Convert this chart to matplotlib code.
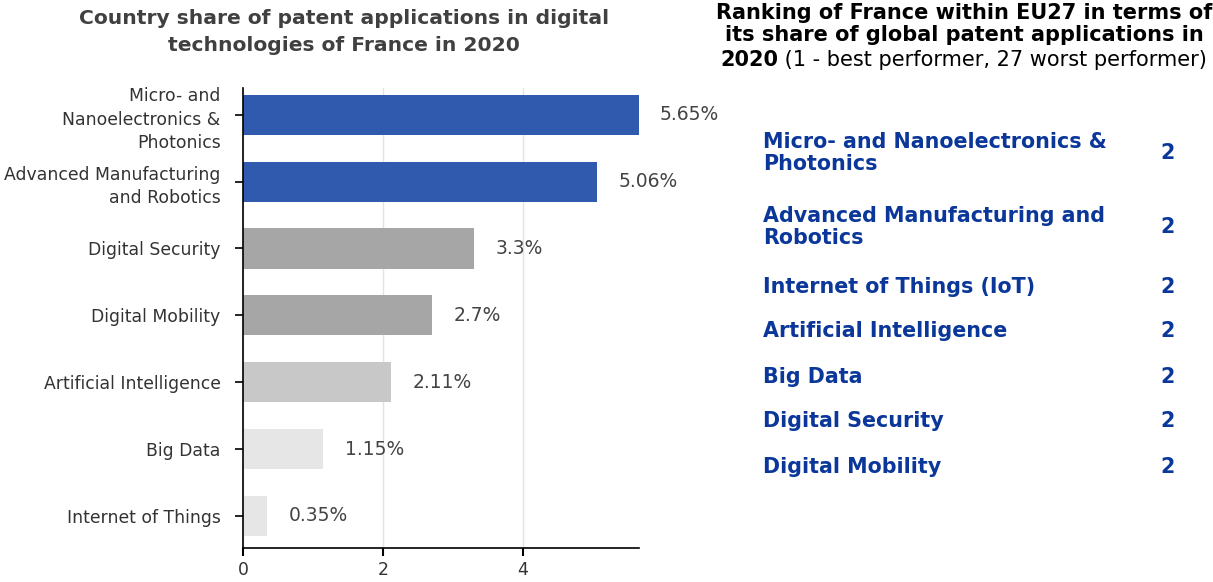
import matplotlib.pyplot as plt

categories = ["Micro- and\nNanoelectronics &\nPhotonics", "Advanced Manufacturing\nand Robotics",
              "Digital Security", "Digital Mobility", "Artificial Intelligence",
              "Big Data", "Internet of Things"]
values = [5.65, 5.06, 3.3, 2.7, 2.11, 1.15, 0.35]

rank_labels = ["Micro- and Nanoelectronics &\nPhotonics", "Advanced Manufacturing and\nRobotics",
               "Internet of Things (IoT)", "Artificial Intelligence", "Big Data",
               "Digital Security", "Digital Mobility"]
ranks = [2, 2, 2, 2, 2, 2, 2]

bar_colors = ['#2f5aad', '#2f5aad', '#a6a6a6', '#a6a6a6', '#c8c8c8', '#e6e6e6', '#e6e6e6']

plt.rcParams['font.family'] = 'DejaVu Sans'
fig = plt.figure(figsize=(12.13, 5.82), dpi=100)
ax = fig.add_axes([0.2003, 0.0584, 0.3261, 0.7904])

pos = list(range(len(categories)))
ax.barh(pos, values, height=0.6, color=bar_colors, zorder=2)
for p, v in zip(pos, values):
    ax.annotate(f"{v:g}%", xy=(v, p), xytext=(15.5, 0), textcoords='offset points',
                va='center', ha='left', fontsize=13.5, color='#444444')

ax.set_xlim(0, 5.65)
ax.set_ylim(6.48, -0.4)
ax.set_yticks(pos)
ax.set_yticklabels(categories, fontsize=12.4, color='#333333', linespacing=1.4)
ax.set_xticks([0, 2, 4])
ax.tick_params(axis='x', labelsize=12.4, labelcolor='#333333', length=6, width=1.5)
ax.tick_params(axis='y', length=6, width=1.2, pad=10)
ax.grid(axis='x', color='#e3e3e3', linewidth=1, zorder=0)
for s in ['top', 'right']:
    ax.spines[s].set_visible(False)
for s in ['left', 'bottom']:
    ax.spines[s].set_linewidth(1.2)

fig.text(0.2836, 1.0 - 9 / 582, "Country share of patent applications in digital\ntechnologies of France in 2020",
         ha='center', va='top', fontsize=14.6, fontweight='bold', color='#404040', linespacing=1.52)

# right panel title
fig.text(964 / 1213, 1.0 - 3 / 582, "Ranking of France within EU27 in terms of\nits share of global patent applications in",
         ha='center', va='top', fontsize=15, fontweight='bold', color='black', linespacing=1.13)
t = fig.text(720 / 1213, 1.0 - 66 / 582, "2020", ha='left', va='baseline',
             fontsize=15, fontweight='bold', color='black')
ax.annotate(" (1 - best performer, 27 worst performer)", xy=(1, 0), xycoords=t,
            ha='left', va='bottom', fontsize=15, color='black', annotation_clip=False)

rank_y = [153, 227, 287, 331, 377, 421, 467]
for lab, r, y in zip(rank_labels, ranks, rank_y):
    fy = 1.0 - y / 582
    fig.text(763 / 1213, fy, lab, ha='left', va='center', fontsize=14.9, fontweight='bold',
             color='#0a3799', linespacing=1.18)
    fig.text(1168 / 1213, fy, str(r), ha='center', va='center', fontsize=14.9, fontweight='bold',
             color='#0a3799')

fig.savefig('out.png', dpi=100)
